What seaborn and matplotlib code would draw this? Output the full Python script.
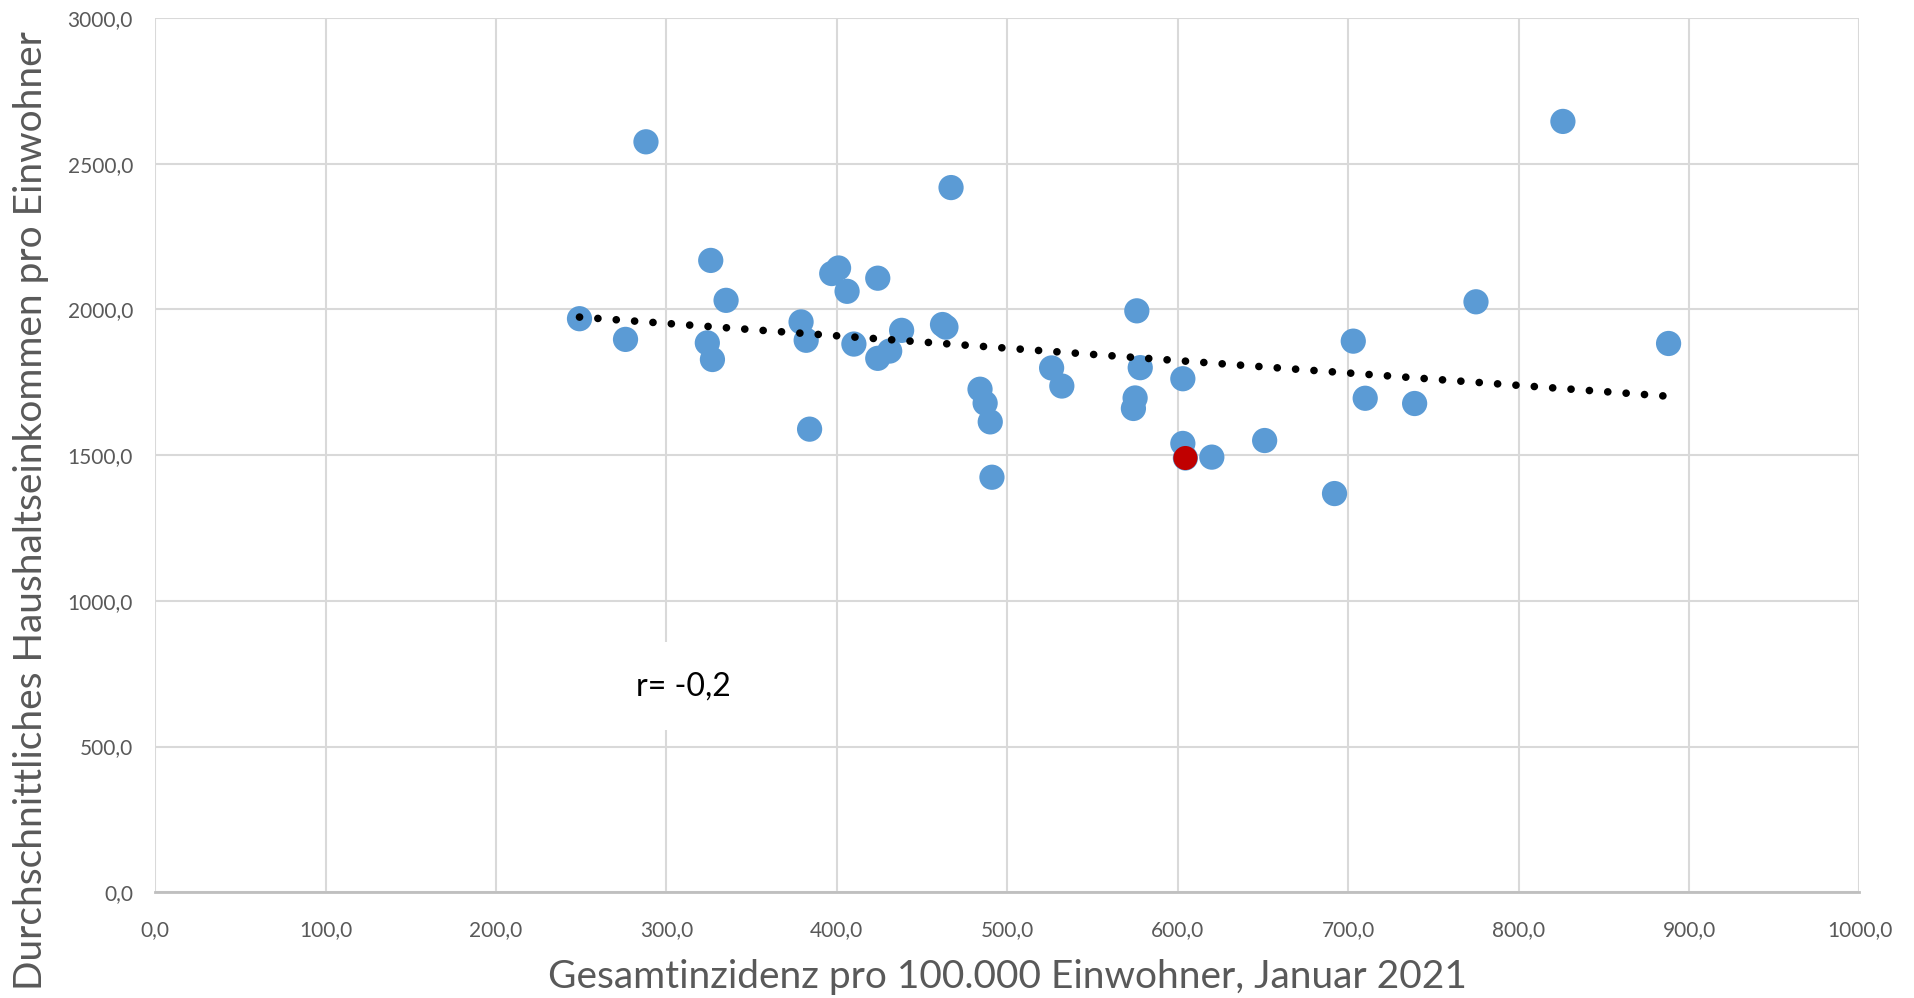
import numpy as np
import pandas as pd
import seaborn as sns
import matplotlib.pyplot as plt
from matplotlib.ticker import FuncFormatter, MultipleLocator

# Incidence (x) and average household income (y) per district
inzidenz = [249, 276, 288, 324, 326, 327, 335, 379, 382, 384, 397, 401, 406, 410,
            424, 424, 431, 438, 462, 464, 467, 484, 487, 490, 491, 526, 532, 575,
            574, 576, 578, 603, 603, 604.5, 620, 651, 692, 703, 710, 739, 775, 826, 888]
einkommen = [1968, 1897, 2575, 1885, 2168, 1828, 2031, 1957, 1894, 1589, 2123, 2142, 2062, 1881,
             2107, 1832, 1857, 1928, 1948, 1939, 2418, 1726, 1678, 1614, 1424, 1799, 1737, 1696,
             1660, 1995, 1800, 1762, 1540, 1490, 1493, 1550, 1368, 1891, 1695, 1677, 2026, 2645, 1883]

# highlighted district
hl_x = [604.5]
hl_y = [1490]

df = pd.DataFrame({"x": inzidenz, "y": einkommen})
hl = pd.DataFrame({"x": hl_x, "y": hl_y})

sns.set_theme(style="white")
plt.rcParams["font.family"] = ["Lato", "DejaVu Sans"]

fig, ax = plt.subplots(figsize=(19.15, 9.98), dpi=100)
fig.subplots_adjust(left=0.081, right=0.971, bottom=0.106, top=0.982)

sns.scatterplot(data=df, x="x", y="y", ax=ax, s=330, color="#5B9BD5",
                edgecolor="none", zorder=3)
sns.scatterplot(data=hl, x="x", y="y", ax=ax, s=300, color="#C00000",
                edgecolor="none", zorder=4)
sns.regplot(data=df, x="x", y="y", ax=ax, scatter=False, ci=None, truncate=True,
            line_kws=dict(color="black", lw=5.5, linestyle=(0, (0.01, 2.4)),
                          dash_capstyle="round", zorder=5))

ax.set_xlim(0, 1000)
ax.set_ylim(0, 3000)
ax.xaxis.set_major_locator(MultipleLocator(100))
ax.yaxis.set_major_locator(MultipleLocator(500))
fmt = FuncFormatter(lambda v, p: f"{v:.1f}".replace(".", ","))
ax.xaxis.set_major_formatter(fmt)
ax.yaxis.set_major_formatter(fmt)
ax.grid(True, color="#D9D9D9", lw=1.5, zorder=0)
ax.set_axisbelow(True)
for s in ["top", "right", "left"]:
    ax.spines[s].set_visible(False)
ax.spines["bottom"].set_color("#BFBFBF")
ax.spines["bottom"].set_linewidth(2)
ax.tick_params(axis="both", length=0, labelsize=15, labelcolor="#595959")
ax.tick_params(axis="x", pad=20)
ax.tick_params(axis="y", pad=16)

ax.set_xlabel("Gesamtinzidenz pro 100.000 Einwohner, Januar 2021", fontsize=28,
              color="#595959", labelpad=14)
ax.set_ylabel("Durchschnittliches Haushaltseinkommen pro Einwohner", fontsize=28,
              color="#595959")
ax.yaxis.set_label_coords(-0.062, 0.437)

ax.text(310, 707, "r= -0,2", fontsize=23, color="black", ha="center", va="center",
        zorder=6, bbox=dict(boxstyle="square,pad=0.9", facecolor="white", edgecolor="none"))

plt.savefig("out.png", dpi=100)
